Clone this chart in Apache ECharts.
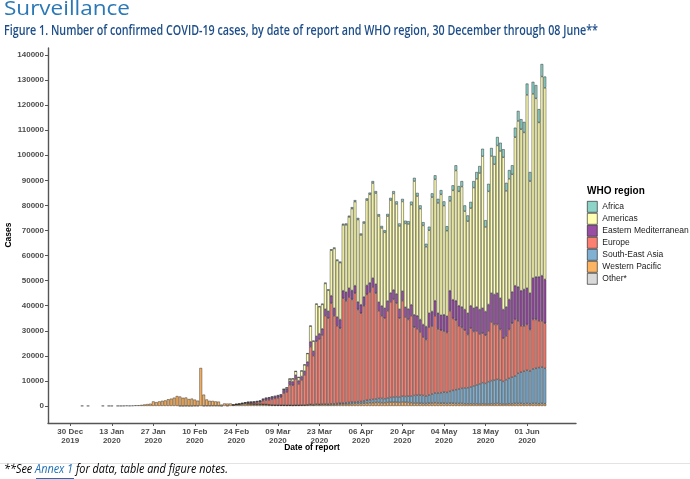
<!DOCTYPE html>
<html><head><meta charset="utf-8">
<script src="https://cdn.jsdelivr.net/npm/echarts@6/dist/echarts.min.js"></script>
<style>html,body{margin:0;padding:0;background:#fff}#c{width:690px;height:479px}</style>
</head><body><div id="c"></div>
<script>
// Day offsets from 30 Dec 2019; the data arrays start at day 1 (31 Dec 2019).
const firstAxisDay = -7, lastAxisDay = 170;
const tickDays = [0,14,28,42,56,70,84,98,112,126,140,154];
const tickLabels = ['30 Dec\n2019','13 Jan\n2020','27 Jan\n2020','10 Feb\n2020','24 Feb\n2020','09 Mar\n2020','23 Mar\n2020','06 Apr\n2020','20 Apr\n2020','04 May\n2020','18 May\n2020','01 Jun\n2020'];
const yTicks = [0,10000,20000,30000,40000,50000,60000,70000,80000,90000,100000,110000,120000,130000,140000];
const regions = ['Africa','Americas','Eastern Mediterranean','Europe','South-East Asia','Western Pacific','Other*'];
const colors = {'Africa':'#8DD3C7','Americas':'#FFFFB3','Eastern Mediterranean':'#984EA3','Europe':'#FB8072','South-East Asia':'#80B1D3','Western Pacific':'#FDB462','Other*':'#D9D9D9'};

const westernPacific = [
0,0,0,40,0,20,0,0,0,0,
40,0,15,20,0,30,20,60,140,80,
150,260,270,420,600,750,900,1800,1500,1800,
2050,2200,2650,2900,3300,3950,3740,3230,3320,2740,
2920,2450,2060,15150,4460,2510,1960,1900,1720,1640,
530,990,880,980,420,560,600,700,820,850,
800,720,700,720,650,600,480,380,330,320,
280,260,230,250,200,250,250,300,300,400,
500,400,600,500,600,600,500,600,600,650,
700,750,800,850,900,950,1000,1000,1100,1200,
1300,1300,1400,1400,1300,1300,1400,1500,1500,1500,
1400,1600,1500,1400,1300,1200,1200,1100,1000,1000,
1100,1200,1300,1200,1100,1100,1000,1100,1100,1000,
1000,1000,900,900,900,900,900,800,900,800,
800,900,900,1000,900,800,800,900,900,1000,
1000,1000,900,1000,900,1000,1000,900,1000,900];

const other = [
0,0,0,0,0,0,0,0,0,0,
0,0,0,0,0,0,0,0,0,0,
0,0,0,0,0,0,0,0,0,0,
0,0,0,0,0,0,10,10,41,3,
6,65,39,0,44,67,70,99,88,79,
13,0,57,0,0,0,0,0,0,0,
0,0,0,0,0,0,0,0,0,0,
0,0,0,0,0,0,0,0,0,0,
0,0,0,0,0,0,0,0,0,0,
0,0,0,0,0,0,0,0,0,0,
0,0,0,0,0,0,0,0,0,0,
0,0,0,0,0,0,0,0,0,0,
0,0,0,0,0,0,0,0,0,0,
0,0,0,0,0,0,0,0,0,0,
0,0,0,0,0,0,0,0,0,0,
0,0,0,0,0,0,0,0,0,0];

const southEastAsia = [
0,0,0,0,0,0,0,0,0,0,
0,0,0,0,0,0,0,0,0,0,
0,0,0,0,0,0,0,0,0,0,
0,0,0,0,0,0,0,0,0,0,
0,0,0,0,0,0,0,0,0,0,
0,0,0,0,0,0,0,0,0,5,
5,5,20,25,10,10,15,20,15,20,
20,30,40,30,40,50,60,80,100,100,
150,150,200,150,200,200,300,300,300,350,
400,450,500,550,600,650,700,800,900,1100,
1200,1300,1400,1600,1700,1600,1800,1900,2100,2200,
2200,2300,2300,2500,2700,3000,3100,3200,3200,3000,
3300,3600,3900,4000,4200,4400,4400,4700,5100,5500,
5800,6000,6300,6400,6700,7100,7500,8000,8400,8200,
8900,9200,9400,9600,9400,9000,9700,10100,10600,11000,
12000,12500,12900,13200,13100,13800,14000,14400,14500,14100];

const europe = [
0,0,0,0,0,0,0,0,0,0,
0,0,0,0,0,0,0,0,0,0,
0,0,0,0,0,0,0,0,0,0,
0,0,0,0,0,0,0,0,0,0,
0,0,0,0,0,0,0,0,0,0,
0,0,0,0,30,80,150,250,320,400,
450,550,650,800,1450,1700,1950,2350,2650,2900,
3200,4900,5300,8200,8000,10500,8500,10000,12000,15500,
23000,19500,25000,26000,27500,35200,34200,40100,35100,31000,
29900,41800,40700,42100,41000,43400,36800,35200,38000,42200,
43000,44900,42200,35000,33000,32100,34800,38100,38900,37300,
31400,38100,31700,30600,32000,27200,26500,25200,23300,22500,
27100,27100,30800,25600,24900,24400,23900,32200,28700,27700,
25200,24300,23000,21200,23400,21700,21500,19900,19700,19200,
20300,23400,22200,21900,20200,17200,17500,19500,21500,22500,
21000,18500,18200,18300,16500,19700,19500,18700,18500,18000];

const easternMediterranean = [
0,0,0,0,0,0,0,0,0,0,
0,0,0,0,0,0,0,0,0,0,
0,0,0,0,0,0,0,0,0,0,
0,0,0,0,0,0,0,0,0,0,
0,0,0,0,0,0,0,0,0,0,
0,0,0,0,20,40,80,150,200,300,
350,400,450,500,600,800,850,850,800,850,
900,1100,1200,1400,1500,1500,1300,1400,1500,1600,
2000,1800,2000,2200,2500,2600,2800,3000,3000,3500,
3500,3000,3400,3500,3600,3000,3000,3400,3500,3600,
3600,3500,3600,3400,3900,4000,3900,3600,3800,3700,
3600,3800,3900,4200,4400,5000,5200,5000,5000,5200,
5500,5800,6000,6200,6000,6500,6500,8000,7500,7800,
8000,8200,8300,8500,9000,9300,9600,9800,10000,9500,
10500,11500,12000,12500,12500,11500,11500,12000,12500,13500,
13500,14000,14500,14500,14500,16500,17000,17500,18000,17500];

const americas = [
0,0,0,0,0,0,0,0,0,0,
0,0,0,0,0,0,0,0,0,0,
0,0,0,0,0,0,0,0,0,0,
0,0,0,0,0,0,0,0,0,0,
0,0,0,0,0,0,0,0,0,0,
0,0,0,0,0,10,10,20,40,30,
30,60,80,100,130,150,170,200,250,250,
250,400,500,900,1100,1500,1300,2200,2500,3300,
6200,4000,12800,10700,9700,10250,8350,18100,23800,22500,
22650,26200,26850,28400,32600,33500,32850,27800,29450,34000,
35300,37900,36300,34350,31100,30250,33800,37000,38450,35900,
33200,35750,33400,33900,39900,53300,47700,44200,39500,31800,
33100,45600,48400,44000,48200,43500,34100,35800,43600,51900,
45600,48000,39200,36700,38900,48100,51100,54400,60600,33700,
45100,54700,51900,58900,58700,60700,46300,48100,46900,59200,
66200,64400,62600,77100,44700,73500,71200,61600,79400,76400];

const africa = [
0,0,0,0,0,0,0,0,0,0,
0,0,0,0,0,0,0,0,0,0,
0,0,0,0,0,0,0,0,0,0,
0,0,0,0,0,0,0,0,0,0,
0,0,0,0,0,0,0,0,0,0,
0,0,0,0,0,0,0,0,0,0,
0,0,0,0,0,0,0,0,0,0,
0,10,15,20,30,40,50,60,80,100,
150,150,200,250,300,350,350,400,400,400,
450,500,550,500,600,600,650,600,650,700,
700,800,800,750,800,850,900,900,950,1000,
1000,1050,1100,1100,1200,1300,1300,1300,1300,1200,
1400,1500,1600,1600,1700,1700,1800,1900,2000,2100,
2100,2200,2300,2300,2500,2600,2700,2800,3000,2700,
3000,3200,3300,3400,3300,3200,3200,3500,3600,3800,
4000,4000,4200,4500,3600,4800,5300,5300,5000,4500];

const seriesData = {
  'Other*': other, 'Western Pacific': westernPacific, 'South-East Asia': southEastAsia,
  'Europe': europe, 'Eastern Mediterranean': easternMediterranean, 'Americas': americas, 'Africa': africa
};
const stackOrder = ['Other*','Western Pacific','South-East Asia','Europe','Eastern Mediterranean','Americas','Africa'];

// category axis: one slot per day from firstAxisDay to lastAxisDay
const axisDays = [];
for (let d = firstAxisDay; d <= lastAxisDay; d++) axisDays.push(String(d));

function toAxisData(arr){
  return axisDays.map(s => { const d = +s; const v = (d >= 1 && d <= arr.length) ? arr[d-1] : 0; return v === 0 ? '-' : v; });
}
const isTick = (i, v) => tickDays.indexOf(+v) >= 0;

const chart = echarts.init(document.getElementById('c'), null, {renderer:'canvas'});
const axisCol = '#4d4d4d';
const series = stackOrder.map(name => ({
  name, type:'bar', stack:'all', barWidth: 2.7,
  itemStyle:{color:colors[name], borderColor:'#222', borderWidth:0.45},
  emphasis:{disabled:true},
  data: toAxisData(seriesData[name])
}));

// measure helper to fit text widths like the reference
const cv = document.createElement('canvas').getContext('2d');
function fitScale(text, font, target){ cv.font = font; return target / cv.measureText(text).width; }
const titleText = 'Figure 1. Number of confirmed COVID-19 cases, by date of report and WHO region, 30 December through 08 June**';
const titleScale = fitScale(titleText, '600 14px "Open Sans"', 594);
const survScale = fitScale('Surveillance', '20px "Open Sans"', 126);
const footText = '**See Annex 1 for data, table and figure notes.';
const footScale = fitScale(footText, 'italic 12px "Open Sans"', 224);
const axisNameStyle = {fontSize:8.5, fontWeight:'bold', fontFamily:'Liberation Sans', fill:'#000', align:'center', verticalAlign:'middle'};

chart.setOption({
  animation:false,
  backgroundColor:'#fff',
  grid:{left:48, right:114, top:48, bottom:56, containLabel:false, outerBoundsMode:'none'},
  xAxis:{
    type:'category', data:axisDays, boundaryGap:true,
    axisLine:{show:true, onZero:false, lineStyle:{color:'#555', width:1.4}},
    axisTick:{show:true, alignWithLabel:true, interval:isTick, length:3, lineStyle:{color:'#555', width:1}},
    axisLabel:{interval:isTick, formatter:v=>tickLabels[tickDays.indexOf(+v)]||'',
      fontSize:8, fontWeight:'bold', color:axisCol, fontFamily:'Liberation Sans', lineHeight:9, margin:4},
    splitLine:{show:false}
  },
  yAxis:{
    type:'value', min:-6800, max:142800,
    axisLine:{show:true, lineStyle:{color:'#555', width:1.4}},
    axisTick:{show:true, customValues:yTicks, length:3, lineStyle:{color:'#555', width:1}},
    axisLabel:{customValues:yTicks, formatter:v=>String(v), fontSize:8, fontWeight:'bold', color:axisCol, fontFamily:'Liberation Sans', margin:4},
    splitLine:{show:false}
  },
  legend:{
    orient:'vertical', left:587, top:201, padding:0, itemWidth:10, itemHeight:11, itemGap:0.4,
    data:regions, icon:'rect', selectedMode:false,
    itemStyle:{borderColor:'#111', borderWidth:0.6},
    textStyle:{fontSize:8.5, lineHeight:11, color:'#1a1a1a', fontFamily:'Liberation Sans'}
  },
  graphic:[
    {type:'text', x:4, y:-1, scaleX:survScale, style:{text:'Surveillance', fontSize:20, fontFamily:'Open Sans', fill:'#2a78b6'}},
    {type:'text', x:4, y:24, scaleX:titleScale, style:{text:titleText, fontSize:14, fontWeight:600, fontFamily:'Open Sans', fill:'#1d4e89'}},
    {type:'text', x:9, y:235, rotation:Math.PI/2, style:Object.assign({text:'Cases'}, axisNameStyle)},
    {type:'text', x:312, y:448, style:Object.assign({text:'Date of report'}, axisNameStyle)},
    {type:'text', left:587, top:186, style:{text:'WHO region', fontSize:10, fontWeight:'bold', fontFamily:'Liberation Sans', fill:'#000'}},
    {type:'line', shape:{x1:0, y1:463.5, x2:690, y2:463.5}, style:{stroke:'#e3e3e3', lineWidth:1}},
    {type:'text', x:4, y:464, scaleX:footScale, style:{rich:{n:{fontSize:12, fontStyle:'italic', fontFamily:'Open Sans', fill:'#000'}, a:{fontSize:12, fontStyle:'italic', fontFamily:'Open Sans', fill:'#1f6fb5'}}, text:'{n|**See }{a|Annex 1}{n| for data, table and figure notes.}'}},
    {type:'line', shape:{x1:36, y1:478.5, x2:74, y2:478.5}, style:{stroke:'#1f6fb5', lineWidth:1}}
  ],
  series
});
</script></body></html>
